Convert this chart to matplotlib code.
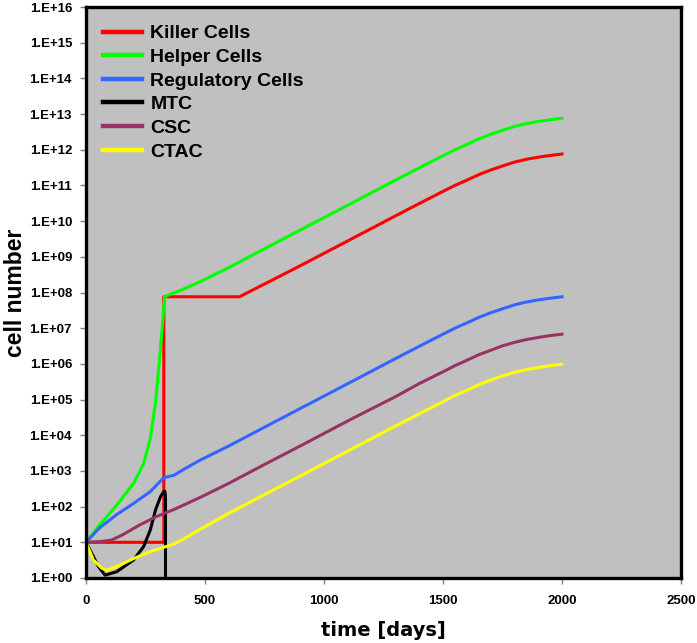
import matplotlib
matplotlib.use('Agg')
import matplotlib.pyplot as plt
import numpy as np

# values
late_t = [1400, 1500, 1550, 1600, 1650, 1700, 1750, 1800, 1850, 1900, 1950, 2000]

killer_t = [0, 327, 327, 645, 900, 1113, 1300] + late_t
killer = [10, 10, 7.6e7, 7.6e7, 5.6e8, 3.1e9, 1.4e10,
          3.1e10, 6.8e10, 1.0e11, 1.4e11, 2.0e11, 2.7e11, 3.5e11, 4.5e11, 5.4e11, 6.2e11, 6.9e11, 7.6e11]

helper_t = [0, 56, 129, 200, 242, 270, 292, 306, 320, 330, 360, 400, 479, 600, 740,
            900, 1113, 1300] + late_t
helper = [10, 30, 110, 450, 1.6e3, 8.0e3, 8.0e4, 8.0e5, 1.0e7, 7.6e7, 9.3e7, 1.17e8, 2.0e8, 5.0e8, 1.55e9,
          5.6e9, 3.1e10, 1.4e11,
          3.1e11, 6.8e11, 1.0e12, 1.4e12, 2.0e12, 2.7e12, 3.5e12, 4.5e12, 5.4e12, 6.2e12, 6.9e12, 7.6e12]

regulatory_t = [0, 56, 129, 200, 270, 327, 345, 370, 420, 479, 600, 740, 900, 1113, 1300] + late_t
regulatory = [10, 25, 60, 123, 263, 650, 690, 760, 1.2e3, 2.0e3, 5.0e3, 1.55e4, 5.6e4, 3.1e5, 1.4e6,
              3.1e6, 6.8e6, 1.0e7, 1.4e7, 2.0e7, 2.7e7, 3.5e7, 4.5e7, 5.4e7, 6.2e7, 6.9e7, 7.6e7]

mtc_t = [0, 31, 52, 80, 129, 200, 242, 270, 292, 313, 327, 331, 334, 334]
mtc = [10, 4.0, 2.1, 1.2, 1.5, 3.2, 7.6, 22, 80, 190, 265, 270, 200, 1e-3]

csc_t = [0, 60, 106, 152, 223, 294, 369, 479, 600, 740, 900, 1113, 1300] + late_t
csc = [10, 10.5, 11.5, 16, 30, 52, 83, 180, 450, 1.4e3, 5.0e3, 2.8e4, 1.2e5,
       2.8e5, 6.0e5, 8.9e5, 1.26e6, 1.8e6, 2.4e6, 3.2e6, 4.0e6, 4.8e6, 5.5e6, 6.2e6, 6.8e6]

ctac_t = [0, 31, 66, 87, 129, 200, 270, 369, 420, 479, 600, 740, 900, 1113, 1300] + late_t
ctac = [10, 3.2, 1.9, 1.65, 2.1, 3.5, 5.5, 8.9, 13.5, 23, 65, 200, 720, 4.0e3, 1.8e4,
        4.0e4, 8.7e4, 1.3e5, 1.8e5, 2.6e5, 3.5e5, 4.6e5, 5.8e5, 6.9e5, 7.9e5, 8.9e5, 9.8e5]

series = [
    ('Killer Cells', killer_t, killer, '#ff0000'),
    ('Helper Cells', helper_t, helper, '#00ff00'),
    ('Regulatory Cells', regulatory_t, regulatory, '#3366ff'),
    ('MTC', mtc_t, mtc, '#000000'),
    ('CSC', csc_t, csc, '#993366'),
    ('CTAC', ctac_t, ctac, '#ffff00'),
]

fig = plt.figure(figsize=(6.97, 6.43), dpi=100)
ax = fig.add_axes([86 / 697, 1 - 578 / 643, 595 / 697, 571 / 643])
ax.set_facecolor('#c0c0c0')

for name, t, v, c in series:
    ax.plot(t, v, color=c, lw=2.2, label=name, solid_joinstyle='round')

ax.set_yscale('log')
ax.set_ylim(1, 1e16)
ax.set_xlim(0, 2500)
ax.set_xticks(np.arange(0, 2501, 500))
ax.set_yticks([10.0 ** k for k in range(17)])
ax.set_yticklabels([f"1.E+{k:02d}" for k in range(17)])
ax.minorticks_off()

for sp in ax.spines.values():
    sp.set_linewidth(2.4)
    sp.set_color('black')

ax.tick_params(length=4, width=1, color='#808080', pad=6)
for lab in ax.get_xticklabels() + ax.get_yticklabels():
    lab.set_fontfamily('Liberation Sans')
    lab.set_fontweight('bold')
    lab.set_fontsize(9.5)
ax.tick_params(axis='x', pad=8)

ax.set_xlabel('time [days]', fontfamily='DejaVu Sans', fontweight='bold', fontsize=14, labelpad=10)
ax.set_ylabel('cell number', fontfamily='Liberation Sans', fontweight='bold', fontsize=16.5, labelpad=2)

leg = ax.legend(loc='upper left', bbox_to_anchor=(0.028, 0.969), frameon=False,
                handlelength=2.0, handletextpad=0.45, labelspacing=0.31,
                borderaxespad=0, borderpad=0,
                prop={'family': 'Liberation Sans', 'weight': 'bold', 'size': 14})
for h in leg.get_lines():
    h.set_linewidth(3.2)

fig.savefig('out.png', dpi=100)
